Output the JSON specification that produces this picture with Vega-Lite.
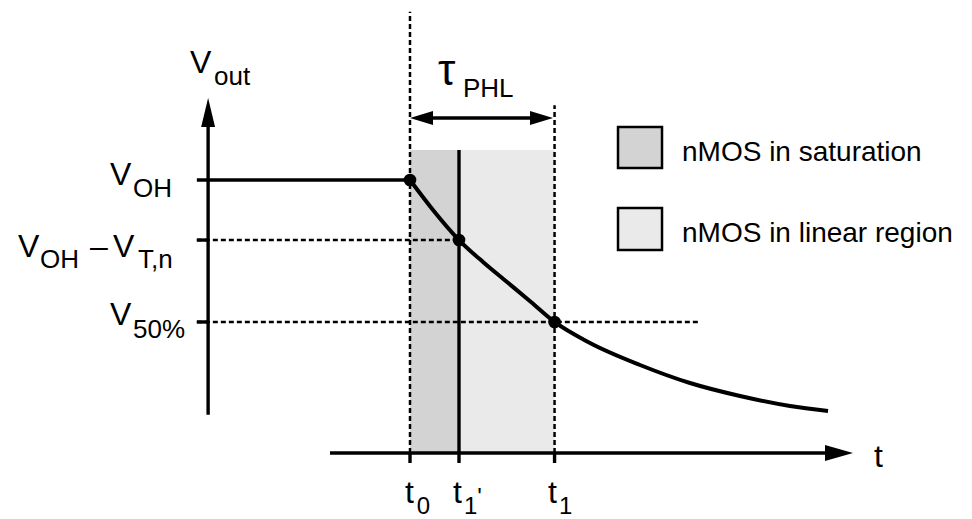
{
  "$schema": "https://vega.github.io/schema/vega-lite/v6.json",
  "width": 972,
  "height": 519,
  "padding": 0,
  "autosize": {"type": "fit", "contains": "padding"},
  "background": "white",
  "config": {"view": {"stroke": null}},
  "encoding": {
    "x": {"field": "t", "type": "quantitative", "scale": {"domain": [-8.367, 11.469], "nice": false, "zero": false}, "axis": null},
    "y": {"field": "v", "type": "quantitative", "scale": {"domain": [-1.209, 8.297], "nice": false, "zero": false}, "axis": null}
  },
  "layer": [
    {
      "data": {"values": [
        {"region": "nMOS in saturation", "t": 0, "t2": 1, "v": 0, "v2": 5.55},
        {"region": "nMOS in linear region", "t": 1, "t2": 2.95, "v": 0, "v2": 5.55}
      ]},
      "mark": {"type": "rect"},
      "encoding": {
        "x2": {"field": "t2"},
        "y2": {"field": "v2"},
        "fill": {"field": "region", "type": "nominal", "scale": {"domain": ["nMOS in saturation", "nMOS in linear region"], "range": ["#d3d3d3", "#eaeaea"]}, "legend": null}
      }
    },
    {
      "data": {"values": [
        {"region": "nMOS in saturation", "t": 4.245, "t2": 5.143, "v": 5.971, "v2": 5.22},
        {"region": "nMOS in linear region", "t": 4.245, "t2": 5.143, "v": 4.487, "v2": 3.718}
      ]},
      "mark": {"type": "rect", "stroke": "black", "strokeWidth": 2.5},
      "encoding": {
        "x2": {"field": "t2"},
        "y2": {"field": "v2"},
        "fill": {"field": "region", "type": "nominal", "legend": null}
      }
    },
    {
      "data": {"values": [
        {"label": "nMOS in saturation", "t": 5.551, "v": 5.348},
        {"label": "nMOS in linear region", "t": 5.551, "v": 3.864}
      ]},
      "mark": {"type": "text", "align": "left", "baseline": "alphabetic", "font": "Liberation Sans", "fontSize": 28, "color": "black"},
      "encoding": {"text": {"field": "label"}}
    },
    {
      "data": {"values": [
        {"t": 0, "t2": 0, "v": 0, "v2": 8.08},
        {"t": 2.95, "t2": 2.95, "v": 0, "v2": 6.37},
        {"t": -4.35, "t2": 1, "v": 3.9, "v2": 3.9},
        {"t": -4.35, "t2": 5.92, "v": 2.4, "v2": 2.4}
      ]},
      "mark": {"type": "rule", "color": "black", "strokeWidth": 2.5, "strokeDash": [5, 3]},
      "encoding": {"x2": {"field": "t2"}, "y2": {"field": "v2"}}
    },
    {
      "data": {"values": [
        {"t": -4.35, "t2": 0, "v": 5, "v2": 5},
        {"t": 1, "t2": 1, "v": 0, "v2": 5.55},
        {"t": -4.12, "t2": -4.12, "v": 0.7, "v2": 6.0},
        {"t": -1.633, "t2": 8.6, "v": 0, "v2": 0},
        {"t": 0, "t2": 0, "v": 0, "v2": -0.183},
        {"t": 1, "t2": 1, "v": 0, "v2": -0.183},
        {"t": 2.95, "t2": 2.95, "v": 0, "v2": -0.183},
        {"t": -4.35, "t2": -4.12, "v": 3.9, "v2": 3.9},
        {"t": -4.35, "t2": -4.12, "v": 2.4, "v2": 2.4},
        {"t": 0.2, "t2": 2.75, "v": 6.136, "v2": 6.136}
      ]},
      "mark": {"type": "rule", "color": "black", "strokeWidth": 3.4},
      "encoding": {"x2": {"field": "t2"}, "y2": {"field": "v2"}}
    },
    {
      "data": {"values": [
        {"t": 0, "v": 5.0},
        {"t": 0.469, "v": 4.451},
        {"t": 1, "v": 3.9},
        {"t": 1.49, "v": 3.498},
        {"t": 1.98, "v": 3.132},
        {"t": 2.469, "v": 2.766},
        {"t": 2.95, "v": 2.4},
        {"t": 3.673, "v": 2.015},
        {"t": 4.694, "v": 1.612},
        {"t": 5.714, "v": 1.282},
        {"t": 6.735, "v": 1.044},
        {"t": 7.755, "v": 0.861},
        {"t": 8.531, "v": 0.769}
      ]},
      "mark": {"type": "line", "color": "black", "strokeWidth": 4, "interpolate": "monotone"},
      "encoding": {}
    },
    {
      "data": {"values": [
        {"t": 0, "v": 5.0},
        {"t": 1, "v": 3.9},
        {"t": 2.95, "v": 2.4}
      ]},
      "mark": {"type": "point", "shape": "circle", "filled": true, "color": "black", "size": 160, "opacity": 1},
      "encoding": {}
    },
    {
      "data": {"values": [{"t": -4.12, "v": 6.236}]},
      "mark": {"type": "point", "shape": "M0,-1L0.48,1L-0.48,1Z", "filled": true, "color": "black", "size": 841, "opacity": 1},
      "encoding": {}
    },
    {
      "data": {"values": [{"t": 8.755, "v": 0}]},
      "mark": {"type": "point", "shape": "M1,0L-1,0.57L-1,-0.57Z", "filled": true, "color": "black", "size": 784, "opacity": 1},
      "encoding": {}
    },
    {
      "data": {"values": [{"t": 0.235, "v": 6.136}]},
      "mark": {"type": "point", "shape": "M-1,0L1,-0.6L1,0.6Z", "filled": true, "color": "black", "size": 529, "opacity": 1},
      "encoding": {}
    },
    {
      "data": {"values": [{"t": 2.684, "v": 6.136}]},
      "mark": {"type": "point", "shape": "M1,0L-1,-0.6L-1,0.6Z", "filled": true, "color": "black", "size": 529, "opacity": 1},
      "encoding": {}
    },
    {
      "data": {"values": [
        {"label": "V", "t": -4.49, "v": 6.96},
        {"label": "V", "t": -6.122, "v": 4.908},
        {"label": "V", "t": -8.0, "v": 3.59},
        {"label": "–", "t": -6.531, "v": 3.59},
        {"label": "V", "t": -6.061, "v": 3.59},
        {"label": "V", "t": -6.122, "v": 2.344},
        {"label": "t", "t": -0.102, "v": -0.916},
        {"label": "t", "t": 0.878, "v": -0.916},
        {"label": "t", "t": 2.816, "v": -0.916},
        {"label": "t", "t": 9.469, "v": -0.256}
      ]},
      "mark": {"type": "text", "align": "left", "baseline": "alphabetic", "font": "Liberation Sans", "fontSize": 32, "color": "black"},
      "encoding": {"text": {"field": "label"}}
    },
    {
      "data": {"values": [
        {"label": "out", "t": -4.0, "v": 6.74},
        {"label": "OH", "t": -5.653, "v": 4.689},
        {"label": "OH", "t": -7.551, "v": 3.388},
        {"label": "T,n", "t": -5.551, "v": 3.388},
        {"label": "50%", "t": -5.653, "v": 2.106},
        {"label": "PHL", "t": 1.08, "v": 6.52}
      ]},
      "mark": {"type": "text", "align": "left", "baseline": "alphabetic", "font": "Liberation Sans", "fontSize": 26, "color": "black"},
      "encoding": {"text": {"field": "label"}}
    },
    {
      "data": {"values": [
        {"label": "0", "t": 0.14, "v": -1.117},
        {"label": "1", "t": 1.1, "v": -1.117},
        {"label": "'", "t": 1.37, "v": -0.95},
        {"label": "1", "t": 3.04, "v": -1.117}
      ]},
      "mark": {"type": "text", "align": "left", "baseline": "alphabetic", "font": "Liberation Sans", "fontSize": 24, "color": "black"},
      "encoding": {"text": {"field": "label"}}
    },
    {
      "data": {"values": [{"label": "τ", "t": 0.571, "v": 6.74}]},
      "mark": {"type": "text", "align": "left", "baseline": "alphabetic", "font": "Liberation Sans", "fontSize": 44, "color": "black"},
      "encoding": {"text": {"field": "label"}}
    }
  ]
}
